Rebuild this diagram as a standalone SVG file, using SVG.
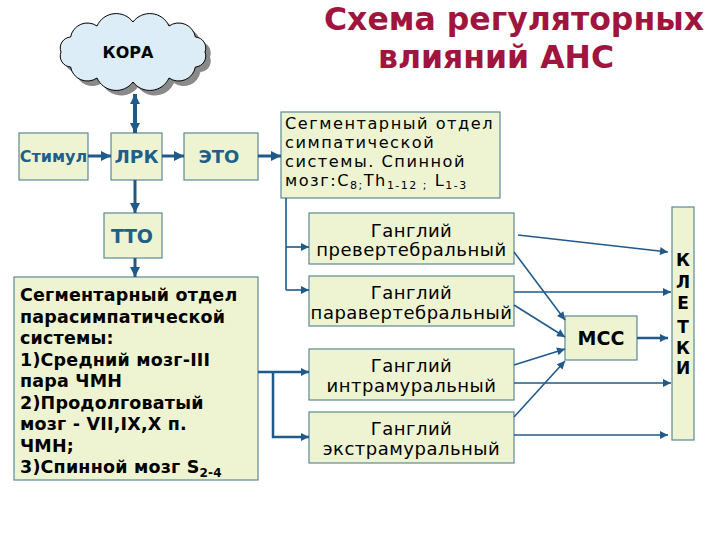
<svg xmlns="http://www.w3.org/2000/svg" width="720" height="540" viewBox="0 0 720 540">
<defs>
<marker id="ah" viewBox="0 0 10 10" refX="10" refY="5" markerWidth="9" markerHeight="8" markerUnits="userSpaceOnUse" orient="auto"><path d="M0 0 L10 5 L0 10 Z" fill="#1f5a8a"/></marker>
<marker id="ahb" viewBox="0 0 10 10" refX="10" refY="5" markerWidth="11" markerHeight="10" markerUnits="userSpaceOnUse" orient="auto"><path d="M0 0 L10 5 L0 10 Z" fill="#1f5a8a"/></marker>
<marker id="ahs" viewBox="0 0 10 10" refX="0" refY="5" markerWidth="11" markerHeight="10" markerUnits="userSpaceOnUse" orient="auto"><path d="M10 0 L0 5 L10 10 Z" fill="#1f5a8a"/></marker>
</defs>
<style>
.box{fill:#eef4d2;stroke:#5e8896;stroke-width:1.2}
.t{font-family:"DejaVu Sans",Verdana,sans-serif;fill:#000}
.tb{font-family:"DejaVu Sans",Verdana,sans-serif;font-weight:bold;fill:#000}
.bl{font-family:"DejaVu Sans",Verdana,sans-serif;font-weight:bold;fill:#1f5f8b}
.ttl{font-family:"DejaVu Sans",Verdana,sans-serif;font-weight:bold;fill:#a0153e}
.c{fill:none;stroke:#1f5a8a}
.thin{stroke-width:1.6;marker-end:url(#ah)}
.thick{stroke-width:3;marker-end:url(#ahb)}
</style>
<rect width="720" height="540" fill="#fff"/>
<g id="title">
<text class="ttl" x="514" y="30" font-size="31.5" text-anchor="middle">Схема регуляторных</text>
<text class="ttl" x="496" y="68" font-size="31.5" text-anchor="middle">влияний АНС</text>
</g>
<g id="kora">
<path transform="translate(5,5)" fill="#8a8a8a" d="M61 52 A11 11 0 0 1 70.6 37 A17 17 0 0 1 97 26 A21 21 0 0 1 133 22 A21 21 0 0 1 169 26 A17 17 0 0 1 195.4 37 A11 11 0 0 1 205 52 A11 11 0 0 1 195.4 67 A17 17 0 0 1 169 78 A21 21 0 0 1 133 82 A21 21 0 0 1 97 78 A17 17 0 0 1 70.6 67 A11 11 0 0 1 61 52 Z"/>
<path fill="#dcedf8" stroke="#000" stroke-width="1" d="M61 52 A11 11 0 0 1 70.6 37 A17 17 0 0 1 97 26 A21 21 0 0 1 133 22 A21 21 0 0 1 169 26 A17 17 0 0 1 195.4 37 A11 11 0 0 1 205 52 A11 11 0 0 1 195.4 67 A17 17 0 0 1 169 78 A21 21 0 0 1 133 82 A21 21 0 0 1 97 78 A17 17 0 0 1 70.6 67 A11 11 0 0 1 61 52 Z"/>
<text class="tb" x="128" y="58" font-size="16" text-anchor="middle">КОРА</text>
</g>
<g id="stimul"><rect class="box" x="19" y="133" width="69" height="47"/><text class="bl" x="53.5" y="162" font-size="16" text-anchor="middle">Стимул</text></g>
<g id="lrk"><rect class="box" x="111" y="133" width="51" height="47"/><text class="bl" x="136.5" y="163" font-size="18.5" text-anchor="middle">ЛРК</text></g>
<g id="eto"><rect class="box" x="184" y="133" width="74" height="47"/><text class="bl" x="219" y="163" font-size="18" text-anchor="middle">ЭТО</text></g>
<g id="tto"><rect class="box" x="104" y="213" width="58" height="45"/><text class="bl" x="132" y="243" font-size="19" text-anchor="middle">ТТО</text></g>
<g id="symp"><rect class="box" x="281" y="112" width="219" height="86"/>
<text class="t" font-size="16.2" letter-spacing="1.5"><tspan x="285" y="129">Сегментарный отдел</tspan><tspan x="285" y="148">симпатической</tspan><tspan x="285" y="167">системы. Спинной</tspan><tspan x="285" y="186">мозг:С<tspan font-size="11" dy="3">8;</tspan><tspan dy="-3">Th</tspan><tspan font-size="11" dy="3">1-12 ;</tspan><tspan dy="-3"> L</tspan><tspan font-size="11" dy="3">1-3</tspan></tspan></text></g>
<g id="parasym"><rect class="box" x="14" y="277" width="244" height="203"/>
<text class="tb" font-size="17.5" letter-spacing="0.2"><tspan x="20" y="301">Сегментарный отдел</tspan><tspan x="20" y="322.5">парасимпатической</tspan><tspan x="20" y="344">системы:</tspan><tspan x="20" y="365.5">1)Средний мозг-III</tspan><tspan x="20" y="387">пара ЧМН</tspan><tspan x="20" y="408.5">2)Продолговатый</tspan><tspan x="20" y="430">мозг - VII,IX,X п.</tspan><tspan x="20" y="451.5">ЧМН;</tspan><tspan x="20" y="473">3)Спинной мозг S<tspan font-size="12" dy="4">2-4</tspan></tspan></text></g>
<g id="g1"><rect class="box" x="309" y="213" width="205" height="51"/><text class="t" font-size="18" letter-spacing="0.5" text-anchor="middle"><tspan x="411.5" y="237">Ганглий</tspan><tspan x="411.5" y="256">превертебральный</tspan></text></g>
<g id="g2"><rect class="box" x="309" y="276" width="205" height="50"/><text class="t" font-size="18" letter-spacing="0.5" text-anchor="middle"><tspan x="411.5" y="299">Ганглий</tspan><tspan x="411.5" y="319">паравертебральный</tspan></text></g>
<g id="g3"><rect class="box" x="309" y="349" width="205" height="51"/><text class="t" font-size="18" letter-spacing="0.5" text-anchor="middle"><tspan x="411.5" y="372">Ганглий</tspan><tspan x="411.5" y="392">интрамуральный</tspan></text></g>
<g id="g4"><rect class="box" x="309" y="412" width="205" height="51"/><text class="t" font-size="18" letter-spacing="0.5" text-anchor="middle"><tspan x="411.5" y="435">Ганглий</tspan><tspan x="411.5" y="455">экстрамуральный</tspan></text></g>
<g id="mcc"><rect class="box" x="565" y="316" width="72" height="44"/><text class="tb" x="601" y="345" font-size="19" text-anchor="middle">МСС</text></g>
<g id="kletki"><rect class="box" x="672" y="207" width="22" height="233"/>
<text class="tb" font-size="17" text-anchor="middle"><tspan x="683" y="266">К</tspan><tspan x="683" y="288">Л</tspan><tspan x="683" y="309">Е</tspan><tspan x="683" y="333">Т</tspan><tspan x="683" y="354">К</tspan><tspan x="683" y="374">И</tspan></text></g>
<g id="connectors">
<path class="c" stroke-width="4" marker-start="url(#ahs)" marker-end="url(#ahb)" d="M135 94 V133"/>
<path class="c thick" d="M88 156 H111"/>
<path class="c thick" d="M162 156 H184"/>
<path class="c thick" d="M258 156 H281"/>
<path class="c thick" d="M135 180 V213"/>
<path class="c thick" d="M135 258 V277"/>
<path class="c" stroke-width="1.6" d="M286 198 V290"/>
<path class="c thin" d="M286 247 H309"/>
<path class="c thin" d="M286 290 H309"/>
<path class="c" stroke-width="2.5" marker-end="url(#ah)" d="M258 372 H309"/>
<path class="c" stroke-width="2.5" marker-end="url(#ah)" d="M273 372 V437 H309"/>
<path class="c thin" d="M518 235 L668 252"/>
<path class="c thin" d="M514 252 L565 320"/>
<path class="c thin" d="M514 292 H671"/>
<path class="c thin" d="M514 305 L565 337"/>
<path class="c thin" d="M514 365 L565 349"/>
<path class="c thin" d="M514 383 H671"/>
<path class="c thin" d="M514 417 L565 361"/>
<path class="c thin" d="M514 435 H668"/>
<path class="c" stroke-width="2.5" marker-end="url(#ah)" d="M637 338 H668"/>
</g>
</svg>
